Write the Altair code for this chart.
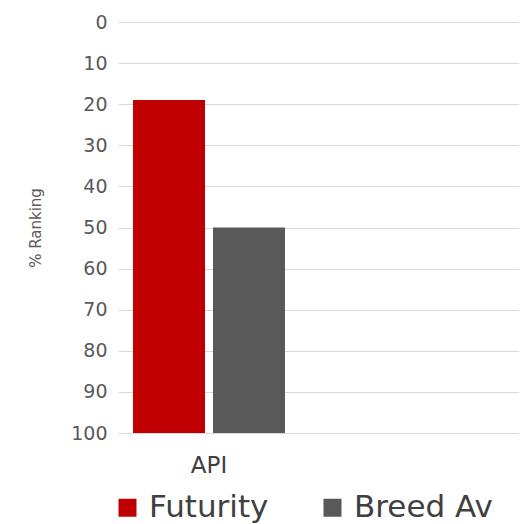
import altair as alt
import pandas as pd

categories = ["API"]
series = ["Futurity", "Breed Av"]
values = [19, 50]
colors = ["#C00000", "#595959"]
y_ticks = [0, 10, 20, 30, 40, 50, 60, 70, 80, 90, 100]

df = pd.DataFrame({
    "category": [categories[0]] * len(series),
    "series": series,
    "value": values,
})

FONT = "DejaVu Sans"

chart = alt.Chart(df).mark_bar().encode(
    x=alt.X("category:N", title=None,
            scale=alt.Scale(paddingInner=0, paddingOuter=0.6016, align=0),
            axis=alt.Axis(labelAngle=0, labelFontSize=23, labelFont=FONT,
                          labelColor="#404040", domain=False, ticks=False,
                          labelPadding=21, grid=False)),
    xOffset=alt.XOffset("series:N", sort=series,
                        scale=alt.Scale(paddingInner=0.1, paddingOuter=0.1875)),
    y=alt.Y("value:Q", title="% Ranking",
            scale=alt.Scale(domain=[0, 100], reverse=True, nice=False, zero=False),
            axis=alt.Axis(values=y_ticks, labelFontSize=19, labelFont=FONT,
                          labelColor="#595959", domain=False, ticks=False,
                          labelPadding=11, gridColor="#d9d9d9", gridWidth=1,
                          titleFont=FONT, titleFontSize=15, titleFontWeight="normal",
                          titleColor="#595959", titleX=-83, titleY=205.5,
                          titleAngle=270, titleAlign="center",
                          titleBaseline="middle")),
    y2=alt.datum(100),
    color=alt.Color("series:N", sort=series,
                    scale=alt.Scale(domain=series, range=colors),
                    legend=alt.Legend(title=None, orient="none", legendX=-6,
                                      legendY=470, direction="horizontal",
                                      columns=2, symbolType="square",
                                      symbolSize=324, symbolStrokeWidth=0,
                                      labelFont=FONT, labelFontSize=31,
                                      labelColor="#404040", labelOffset=6,
                                      columnPadding=48, labelLimit=400,
                                      padding=0)),
).properties(
    width=401,
    height=411,
    padding={"left": 110, "top": 14, "right": 0, "bottom": 91},
    autosize=alt.AutoSizeParams(type="none"),
    background="white",
).configure_view(
    stroke=None
)

chart.save("out.html", embed_options={"renderer": "svg", "actions": False})
